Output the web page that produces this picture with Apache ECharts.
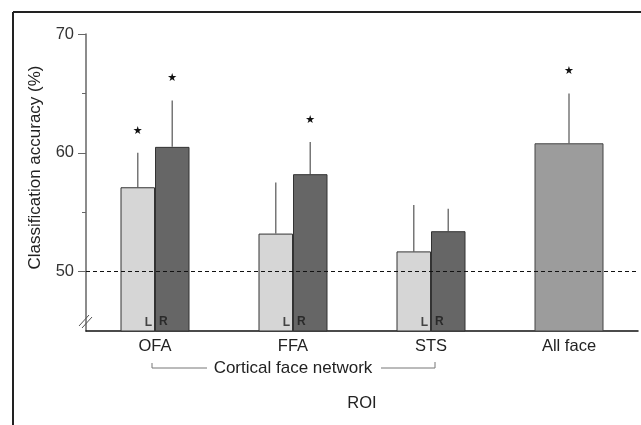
<!DOCTYPE html>
<html>
<head>
<meta charset="utf-8">
<script src="https://cdn.jsdelivr.net/npm/echarts@6/dist/echarts.min.js"></script>
<style>
  html, body { margin: 0; padding: 0; background: #fff; }
  #chart { width: 641px; height: 425px; }
</style>
</head>
<body>
<div id="chart"></div>
<script>
// data
var categories = ["OFA", "FFA", "STS", "All face"];
var leftValues = [57.1, 53.2, 51.7, "-"];
var rightValues = [60.5, 58.2, 53.4, "-"];
var allValues = ["-", "-", "-", 60.8];
var leftErrTop = [60.0, 57.5, 55.6];
var rightErrTop = [64.4, 60.9, 55.3];
var allErrTop = [65.0];
var leftSig = [1, 0, 0];
var rightSig = [1, 1, 0];
var allSig = [1];
var yLabels = [50, 60, 70];
var yMinorTicks = [55, 65];

var FONT = "Liberation Sans, Arial, sans-serif";
var chart = echarts.init(document.getElementById("chart"));

// error bar + star, shift is the fraction of the band width
function errorSeries(values, tops, sigs, catStart, shift, color, width) {
  var data = tops.map(function (t, i) {
    return [catStart + i, values[catStart + i], t, sigs[i]];
  });
  return {
    type: "custom",
    xAxisIndex: catStart === 3 ? 1 : 0,
    z: 1,
    silent: true,
    data: data,
    renderItem: function (params, api) {
      var base = api.coord([api.value(0), api.value(1)]);
      var top = api.coord([api.value(0), api.value(2)]);
      var band = api.size([1, 0])[0];
      var x = base[0] + band * shift;
      var children = [
        {
          type: "line",
          shape: { x1: x, y1: base[1], x2: x, y2: top[1] },
          style: { stroke: color, lineWidth: width }
        }
      ];
      if (api.value(3)) {
        children.push({
          type: "text",
          style: {
            text: "★",
            x: x,
            y: top[1] - 22,
            align: "center",
            verticalAlign: "middle",
            font: "11px DejaVu Sans",
            fill: "#111"
          }
        });
      }
      return { type: "group", children: children };
    }
  };
}

var option = {
  backgroundColor: "#fff",
  animation: false,
  grid: { left: 86, right: 3, top: 34, bottom: 94 },
  xAxis: [
    {
      type: "category",
      data: categories,
      axisLine: { lineStyle: { color: "#111", width: 1.5 } },
      axisTick: { show: false },
      axisLabel: { fontFamily: FONT, fontSize: 16.5, color: "#222", margin: 7 },
      name: "ROI",
      nameLocation: "middle",
      nameGap: 64,
      nameTextStyle: { fontFamily: FONT, fontSize: 16.5, color: "#222" }
    },
    {
      type: "category",
      data: categories,
      show: false
    }
  ],
  yAxis: [
    {
      type: "value",
      min: 45,
      max: 70,
      interval: 5,
      splitLine: { show: false },
      axisLine: { show: true, lineStyle: { color: "#666", width: 1.5 } },
      axisTick: { show: true, length: 8, customValues: yLabels, lineStyle: { color: "#666" } },
      axisLabel: { customValues: yLabels, fontFamily: FONT, fontSize: 16.5, color: "#333", margin: 12 },
      name: "Classification accuracy (%)",
      nameLocation: "middle",
      nameGap: 42,
      nameTextStyle: { fontFamily: FONT, fontSize: 17, color: "#222", padding: [0, 0, 0, 30] }
    },
    {
      type: "value",
      min: 45,
      max: 70,
      interval: 5,
      position: "left",
      splitLine: { show: false },
      axisLine: { show: false },
      axisTick: { show: true, length: 4, customValues: yMinorTicks, lineStyle: { color: "#666" } },
      axisLabel: { show: false }
    }
  ],
  series: [
    {
      name: "L",
      type: "bar",
      data: leftValues,
      barWidth: 34.5,
      barGap: 0,
      z: 2,
      itemStyle: { color: "#d6d6d6", borderColor: "#333", borderWidth: 1 },
      label: {
        show: true,
        position: "insideBottomRight",
        formatter: "L",
        distance: 3,
        fontFamily: FONT,
        fontSize: 12,
        fontWeight: "bold",
        color: "#444"
      },
      markLine: {
        silent: true,
        symbol: "none",
        label: { show: false },
        lineStyle: { color: "#111", type: [4, 3], width: 1 },
        data: [{ yAxis: 50 }]
      }
    },
    {
      name: "R",
      type: "bar",
      data: rightValues,
      barWidth: 34.5,
      barGap: 0,
      z: 2,
      itemStyle: { color: "#666666", borderColor: "#333", borderWidth: 1 },
      label: {
        show: true,
        position: "insideBottomLeft",
        formatter: "R",
        distance: 4,
        fontFamily: FONT,
        fontSize: 12,
        fontWeight: "bold",
        color: "#2a2a2a"
      }
    },
    {
      name: "All face",
      type: "bar",
      xAxisIndex: 1,
      data: allValues,
      barWidth: 69,
      z: 2,
      itemStyle: { color: "#9c9c9c", borderColor: "#444", borderWidth: 1 }
    },
    errorSeries(leftValues, leftErrTop, leftSig, 0, -0.125, "#777", 1.5),
    errorSeries(rightValues, rightErrTop, rightSig, 0, 0.125, "#777", 1.5),
    errorSeries(allValues, allErrTop, allSig, 3, 0, "#999", 2)
  ]
};
chart.setOption(option);

// frame, axis break and the bracket under the first three categories
var x0 = chart.convertToPixel({ xAxisIndex: 0 }, categories[0]);
var x2 = chart.convertToPixel({ xAxisIndex: 0 }, categories[2]);
var yb = chart.convertToPixel({ yAxisIndex: 0 }, 45);
var by = yb + 37;
var mid = (x0 + x2) / 2;
chart.setOption({
  graphic: [
    { type: "line", shape: { x1: 13, y1: 12, x2: 641, y2: 12 }, style: { stroke: "#222", lineWidth: 2 } },
    { type: "line", shape: { x1: 13, y1: 12, x2: 13, y2: 425 }, style: { stroke: "#222", lineWidth: 2 } },
    { type: "line", shape: { x1: 79, y1: yb - 5, x2: 89, y2: yb - 16 }, style: { stroke: "#555", lineWidth: 1 }, z: 10 },
    { type: "line", shape: { x1: 82, y1: yb - 3, x2: 92, y2: yb - 14 }, style: { stroke: "#555", lineWidth: 1 }, z: 10 },
    { type: "polyline", shape: { points: [[x0 - 3, by - 5], [x0 - 3, by], [mid - 86, by]] }, style: { stroke: "#777", lineWidth: 1, fill: null } },
    { type: "polyline", shape: { points: [[mid + 88, by], [x2 + 4, by], [x2 + 4, by - 6]] }, style: { stroke: "#777", lineWidth: 1, fill: null } },
    {
      type: "text",
      x: mid,
      y: by,
      style: { text: "Cortical face network", align: "center", verticalAlign: "middle", font: "17px " + FONT, fill: "#222" }
    }
  ]
});
</script>
</body>
</html>
